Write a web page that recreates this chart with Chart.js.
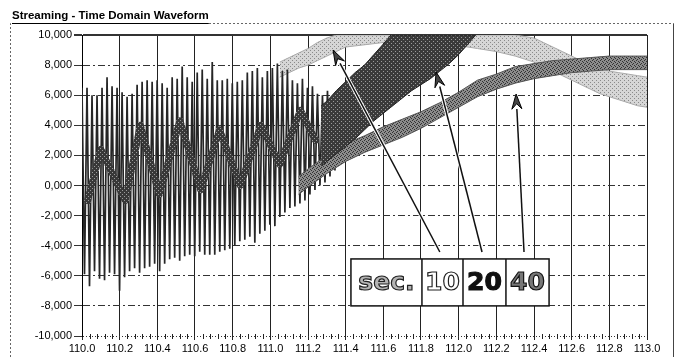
<!DOCTYPE html>
<html>
<head>
<meta charset="utf-8">
<script src="https://cdn.jsdelivr.net/npm/chart.js@4.4.1/dist/chart.umd.min.js"></script>
<style>
  html, body { margin: 0; padding: 0; background: #fff; }
  #wrap { width: 680px; height: 357px; position: relative; }
</style>
</head>
<body>
<div id="wrap"><canvas id="c" width="680" height="357"></canvas></div>
<script>
const TITLE = 'Streaming - Time Domain Waveform';
const xTicks = [110.0, 110.2, 110.4, 110.6, 110.8, 111.0, 111.2, 111.4, 111.6, 111.8, 112.0, 112.2, 112.4, 112.6, 112.8, 113.0];
const yTicks = [-10, -8, -6, -4, -2, 0, 2, 4, 6, 8, 10];
const legendLabels = ['sec.', '10', '20', '40'];

// 20 s record, burst section: one peak and one trough per cycle (V)
const burstStart = 110.0;
const burstCycle = 0.0266;
const burstPeaks = [6.5, 6.5, 6.0, 6.0, 6.5, 7.2, 6.6, 6.5, 6.2, 5.9, 6.1, 6.7, 6.9, 7.0, 6.9, 7.0, 6.8,
  6.5, 7.2, 7.1, 7.9, 7.2, 6.9, 7.5, 7.7, 7.1, 8.2, 7.0, 7.0, 7.1, 6.8, 6.9, 7.0, 7.5, 7.6, 7.8, 7.2,
  7.6, 7.8, 8.1, 7.6, 7.7, 7.0, 6.8, 7.1, 6.5, 6.6, 6.1, 6.0, 6.3, 5.8];
const burstTroughs = [-5.9, -6.7, -5.7, -6.2, -6.3, -5.8, -5.9, -7.0, -6.1, -5.7, -5.5, -5.8, -5.5, -5.4,
  -5.2, -5.7, -5.2, -4.9, -4.8, -5.0, -4.7, -4.6, -4.7, -4.4, -4.6, -4.6, -4.6, -4.4, -4.3, -4.2, -4.0,
  -3.7, -3.6, -3.4, -3.8, -3.2, -3.0, -2.6, -2.7, -2.1, -1.8, -1.5, -1.4, -1.2, -1.0, -0.6, -0.3, 0.0,
  0.2, 0.6, 1.0];
// 20 s record, slow level riding under the burst (V)
const trendTime = [110.03, 110.10, 110.23, 110.31, 110.41, 110.52, 110.63, 110.73, 110.84, 110.95, 111.05, 111.16, 111.24];
const trendLevel = [-1.0, 2.4, -1.0, 4.0, -0.6, 4.3, -0.3, 3.7, 0.0, 4.0, 1.4, 5.0, 3.0];

// 20 s record, dense section after the burst (envelope, V)
const band20Time = [111.27, 111.30, 111.35, 111.40, 111.45, 111.50, 111.55, 111.60, 111.64, 111.70,
  111.75, 111.80, 111.85, 111.90, 111.95, 112.00, 112.05, 112.09];
const band20High = [5.3, 5.6, 6.3, 6.9, 7.5, 8.0, 8.7, 9.4, 10, 10, 10, 10, 10, 10, 10, 10, 10, 10];
const band20Low = [1.3, 1.6, 2.1, 2.6, 3.1, 3.7, 4.3, 4.8, 5.2, 5.8, 6.3, 6.7, 7.1, 7.6, 8.1, 8.7, 9.4, 10];

// 10 s record (envelope, V)
const band10Time = [111.05, 111.10, 111.15, 111.20, 111.25, 111.30, 111.35, 111.40, 111.60, 111.80, 112.00,
  112.10, 112.20, 112.30, 112.35, 112.40, 112.45, 112.50, 112.55, 112.60, 112.65, 112.70, 112.75, 112.80,
  112.85, 112.90, 112.95, 113.00];
const band10High = [8.2, 8.5, 8.8, 9.1, 9.5, 9.8, 10, 10, 10, 10, 10, 10, 10, 10, 9.9, 9.8, 9.5, 9.2, 8.9,
  8.6, 8.3, 8.0, 7.8, 7.6, 7.5, 7.4, 7.3, 7.2];
const band10Low = [7.2, 7.5, 7.8, 8.0, 8.3, 8.6, 8.9, 9.2, 9.5, 9.5, 9.3, 9.1, 8.9, 8.6, 8.4, 8.2, 7.9, 7.6,
  7.3, 7.0, 6.7, 6.4, 6.1, 5.9, 5.7, 5.5, 5.3, 5.2];

// 40 s record (envelope, V)
const band40Time = [111.15, 111.20, 111.30, 111.40, 111.50, 111.60, 111.70, 111.80, 111.90, 112.00, 112.10,
  112.20, 112.30, 112.40, 112.50, 112.60, 112.70, 112.80, 112.90, 113.00];
const band40High = [0.6, 1.1, 2.0, 2.8, 3.3, 3.9, 4.4, 4.9, 5.5, 6.2, 7.0, 7.4, 7.9, 8.1, 8.3, 8.4, 8.5, 8.6, 8.6, 8.6];
const band40Low = [-0.6, -0.1, 0.8, 1.6, 2.2, 2.7, 3.2, 3.8, 4.5, 5.2, 5.9, 6.4, 6.8, 7.1, 7.3, 7.5, 7.6, 7.7, 7.7, 7.7];

// ---------------------------------------------------------------------------
const pts = (xs, ys) => xs.map((x, i) => ({ x, y: ys[i] }));

const burstPoints = [];
burstPeaks.forEach((p, i) => {
  burstPoints.push({ x: burstStart + i * burstCycle, y: p });
  burstPoints.push({ x: burstStart + (i + 0.5) * burstCycle, y: burstTroughs[i] });
});

// small stipple tiles for the printed-screen look of the traces
function stipple(base, dot, cells) {
  const c = document.createElement('canvas');
  c.width = 4; c.height = 4;
  const g = c.getContext('2d');
  g.fillStyle = base; g.fillRect(0, 0, 4, 4);
  g.fillStyle = dot;
  cells.forEach(([x, y]) => g.fillRect(x, y, 1, 1));
  return g.createPattern(c, 'repeat');
}
const lightFill = stipple('#d6d6d6', '#8a8a8a', [[0, 0], [2, 2]]);
const midFill = stipple('#8c8c8c', '#333', [[0, 0], [2, 1], [1, 3], [3, 2]]);
const darkFill = stipple('#3a3a3a', '#9a9a9a', [[1, 1], [3, 3]]);
const trendFill = stipple('#383838', '#9a9a9a', [[0, 0], [2, 2]]);

function band(label, xs, hi, lo, fill, edge, order) {
  return [
    { label: label + ' high', data: pts(xs, hi), borderColor: edge, borderWidth: 1, pointRadius: 0,
      fill: false, order, clip: 0 },
    { label: label + ' low', data: pts(xs, lo), borderColor: edge, borderWidth: 1, pointRadius: 0,
      fill: '-1', backgroundColor: fill, order, clip: 0 }
  ];
}

const datasets = [
  ...band('10 sec', band10Time, band10High, band10Low, lightFill, '#aaa', 5),
  ...band('40 sec', band40Time, band40High, band40Low, midFill, '#555', 3),
  { label: '20 sec burst', data: burstPoints, borderColor: '#262626', borderWidth: 1.7, pointRadius: 0,
    fill: false, order: 4, clip: 0 },
  { label: '20 sec level', data: pts(trendTime, trendLevel), borderColor: trendFill, borderWidth: 7,
    pointRadius: 0, fill: false, order: 2, clip: 0, borderJoinStyle: 'round', borderCapStyle: 'round' },
  ...band('20 sec', band20Time, band20High, band20Low, darkFill, '#222', 1)
];

const fmtY = v => v.toFixed(3).replace('.', ',');

function drawArrow(ctx, x1, y1, x2, y2, halo) {
  const ang = Math.atan2(y2 - y1, x2 - x1);
  const L = 15, W = 5;
  const bx = x2 - Math.cos(ang) * L, by = y2 - Math.sin(ang) * L;
  const nx = -Math.sin(ang), ny = Math.cos(ang);
  if (halo) {
    ctx.strokeStyle = '#fff'; ctx.lineWidth = 3.5;
    ctx.beginPath(); ctx.moveTo(x1, y1); ctx.lineTo(bx, by); ctx.stroke();
  }
  ctx.strokeStyle = '#111'; ctx.lineWidth = 1.5;
  ctx.beginPath(); ctx.moveTo(x1, y1); ctx.lineTo(bx, by); ctx.stroke();
  const nxp = x2 - Math.cos(ang) * L * 0.65, nyp = y2 - Math.sin(ang) * L * 0.65;
  ctx.beginPath();
  ctx.moveTo(x2, y2);
  ctx.lineTo(bx + nx * W, by + ny * W);
  ctx.lineTo(nxp, nyp);
  ctx.lineTo(bx - nx * W, by - ny * W);
  ctx.closePath();
  ctx.fillStyle = '#444'; ctx.fill();
  ctx.strokeStyle = '#000'; ctx.lineWidth = 1; ctx.stroke();
}

const decor = {
  id: 'decor',
  beforeDraw(chart) {
    const ctx = chart.ctx;
    ctx.save();
    ctx.fillStyle = '#fff';
    ctx.fillRect(0, 0, chart.width, chart.height);
    // panel frame
    ctx.strokeStyle = '#666'; ctx.lineWidth = 1; ctx.setLineDash([2, 2]);
    ctx.beginPath();
    ctx.moveTo(10.5, 357); ctx.lineTo(10.5, 23.5); ctx.lineTo(673.5, 23.5);
    ctx.stroke();
    ctx.setLineDash([]);
    ctx.strokeStyle = '#444';
    ctx.beginPath(); ctx.moveTo(673.5, 23.5); ctx.lineTo(673.5, 357); ctx.stroke();
    // title
    ctx.font = 'bold 11.5px "Liberation Sans", Arial, sans-serif';
    ctx.fillStyle = '#000';
    ctx.textBaseline = 'alphabetic';
    ctx.textAlign = 'left';
    ctx.fillText(TITLE, 12, 19);
    const w = ctx.measureText(TITLE).width;
    ctx.strokeStyle = '#000';
    ctx.beginPath(); ctx.moveTo(12, 23.5); ctx.lineTo(12 + w, 23.5); ctx.stroke();
    ctx.restore();
  },
  afterDraw(chart) {
    const ctx = chart.ctx;
    const xs = chart.scales.x, ys = chart.scales.y;
    const X = v => xs.getPixelForValue(v), Y = v => ys.getPixelForValue(v);
    const bottom = chart.chartArea.bottom;
    ctx.save();
    // minor ticks on the time axis
    ctx.strokeStyle = '#222'; ctx.lineWidth = 1;
    for (let k = 0; k <= 75; k++) {
      if (k % 5 === 0) continue;
      const px = Math.round(X(110 + k * 0.04)) + 0.5;
      ctx.beginPath(); ctx.moveTo(px, bottom - 2); ctx.lineTo(px, bottom + 3); ctx.stroke();
    }
    // pointer arrows from the legend cells to the traces
    drawArrow(ctx, X(111.90), Y(-4.42), X(111.333), Y(9.0), true);
    drawArrow(ctx, X(112.124), Y(-4.42), X(111.88), Y(7.54), true);
    drawArrow(ctx, X(112.347), Y(-4.42), X(112.305), Y(6.08), true);

    // legend strip: sec. | 10 | 20 | 40
    const cells = [111.428, 111.805, 112.023, 112.251, 112.480];
    const top = Y(-4.88), bot = Y(-8.0);
    ctx.fillStyle = '#fff';
    ctx.fillRect(X(cells[0]), top, X(cells[4]) - X(cells[0]), bot - top);
    ctx.strokeStyle = '#111'; ctx.lineWidth = 1.5;
    ctx.strokeRect(X(cells[0]), top, X(cells[4]) - X(cells[0]), bot - top);
    for (let i = 1; i < 4; i++) {
      ctx.beginPath(); ctx.moveTo(X(cells[i]), top); ctx.lineTo(X(cells[i]), bot); ctx.stroke();
    }
    const styles = [
      { fill: '#b4b4b4', stroke: '#222' },
      { fill: '#fff', stroke: '#222' },
      { fill: '#111', stroke: '#111' },
      { fill: '#777', stroke: '#111' }
    ];
    ctx.font = 'bold 25px "DejaVu Sans", sans-serif';
    ctx.textAlign = 'center';
    ctx.textBaseline = 'middle';
    legendLabels.forEach((t, i) => {
      const cx = (X(cells[i]) + X(cells[i + 1])) / 2;
      const cy = (top + bot) / 2 + 1;
      ctx.fillStyle = styles[i].fill;
      ctx.fillText(t, cx, cy);
      ctx.lineWidth = 1.2;
      ctx.strokeStyle = styles[i].stroke;
      ctx.strokeText(t, cx, cy);
    });
    ctx.restore();
  }
};

new Chart(document.getElementById('c'), {
  type: 'line',
  data: { datasets },
  options: {
    responsive: false,
    animation: false,
    devicePixelRatio: 1,
    layout: { padding: { left: 0, right: 33, top: 35, bottom: 0 } },
    elements: { line: { tension: 0 } },
    plugins: { legend: { display: false }, tooltip: { enabled: false }, title: { display: false } },
    scales: {
      x: {
        type: 'linear', min: 110, max: 113,
        afterBuildTicks: s => { s.ticks = xTicks.map(v => ({ value: v })); },
        afterFit: s => { s.height = 21; },
        ticks: {
          callback: v => v.toFixed(1), color: '#000', padding: 2, maxRotation: 0, autoSkip: false,
          font: { family: '"Liberation Sans", Arial, sans-serif', size: 11 }
        },
        grid: { color: '#222', lineWidth: 1, tickLength: 4, drawTicks: true },
        border: { display: false }
      },
      y: {
        type: 'linear', min: -10, max: 10,
        afterBuildTicks: s => { s.ticks = yTicks.map(v => ({ value: v })); },
        afterFit: s => { s.width = 82; },
        ticks: {
          callback: v => fmtY(v), color: '#000', padding: 2,
          font: { family: '"Liberation Sans", Arial, sans-serif', size: 11 }
        },
        grid: {
          color: '#333',
          lineWidth: c => (c.tick && c.tick.value === 10 ? 2 : 1),
          tickLength: 8
        },
        border: {
          display: true, color: '#000', width: 1,
          dash: c => (c.tick && c.tick.value === 10 ? [] : (c.tick && c.tick.value === -10 ? [1, 2] : [7, 3, 2, 3]))
        }
      }
    }
  },
  plugins: [decor]
});
</script>
</body>
</html>
